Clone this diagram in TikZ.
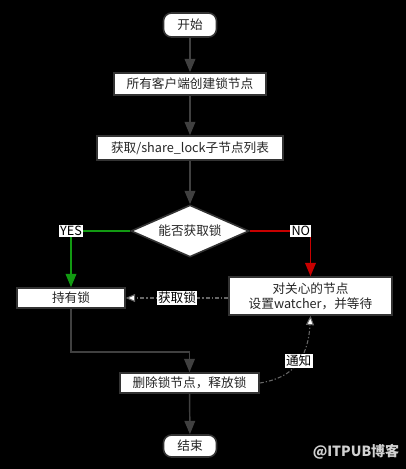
\documentclass[tikz,border=0pt]{standalone}
\usepackage{fontspec}
\setmainfont{Noto Sans CJK SC}
\usetikzlibrary{shapes.geometric,arrows.meta}
\definecolor{edge}{HTML}{404040}
\definecolor{frame}{HTML}{333333}
\definecolor{yesgreen}{HTML}{129A12}
\definecolor{nored}{HTML}{C80000}
\tikzset{
  base/.style={draw=frame, line width=1.2pt, fill=white, text=black!85, inner sep=0pt, font=\fontsize{9.5}{11.5}\selectfont},
  term/.style={base, rounded corners=6pt},
  procbox/.style={base},
  decide/.style={base, diamond, aspect=2.3},
  flow/.style={draw=edge, line width=1.1pt, -{Triangle[length=10pt,width=8pt]}},
  hint/.style={draw=black!60, line width=0.8pt, dash pattern=on 3pt off 1.5pt on 1pt off 1.5pt, -{Triangle[length=7pt,width=6pt,fill=white]}},
  tag/.style={fill=white, text=black, inner sep=1pt, font=\fontsize{9.5}{11.5}\selectfont}
}
\begin{document}
\begin{tikzpicture}[x=0.75pt,y=-0.75pt]
\fill[black] (0,0) rectangle (406,469);
\useasboundingbox (0,0) rectangle (406,469);

\node[term, minimum width=39.75pt, minimum height=18pt] (start) at (190,25) {开始};
\node[procbox, minimum width=114pt, minimum height=16.5pt] (create) at (190,84) {所有客户端创建锁节点};
\node[procbox, minimum width=139.5pt, minimum height=18pt] (list) at (190,148) {获取/share\_lock子节点列表};
\node[decide, minimum width=88.5pt, minimum height=39pt] (dec) at (190,231) {能否获取锁};
\node[procbox, minimum width=81pt, minimum height=15pt] (hold) at (71,298) {持有锁};
\node[procbox, minimum width=122.25pt, minimum height=28.5pt, align=center] (wait) at (310.5,296) {对关心的节点\\设置watcher，并等待};
\node[procbox, minimum width=104.25pt, minimum height=15pt] (del) at (189.5,383) {删除锁节点，释放锁};
\node[term, minimum width=39.75pt, minimum height=16.5pt] (end) at (190,446) {结束};

\draw[flow] (start) -- (create);
\draw[flow] (create) -- (list);
\draw[flow] (list) -- (dec);
\draw[flow, draw=yesgreen] (dec.west) -| (hold.north) node[tag, pos=0.5] {YES};
\draw[flow, draw=nored] (dec.east) -| (wait.north) node[tag, pos=0.42] {NO};
\draw[hint] (wait.west |- hold.east) -- (hold.east) node[tag, pos=0.5] {获取锁};
\draw[flow] (hold.south) -- ++(0,43) -| (del.north);
\draw[hint] (del.east) .. controls (292,378) and (308,360) .. (wait.south) node[tag, pos=0.55] {通知};
\draw[flow] (del) -- (end);

\node[text=black!18, font=\fontsize{10.5}{12}\selectfont\bfseries] (mark) at (356,452) {@ITPUB博客};
\end{tikzpicture}
\end{document}
